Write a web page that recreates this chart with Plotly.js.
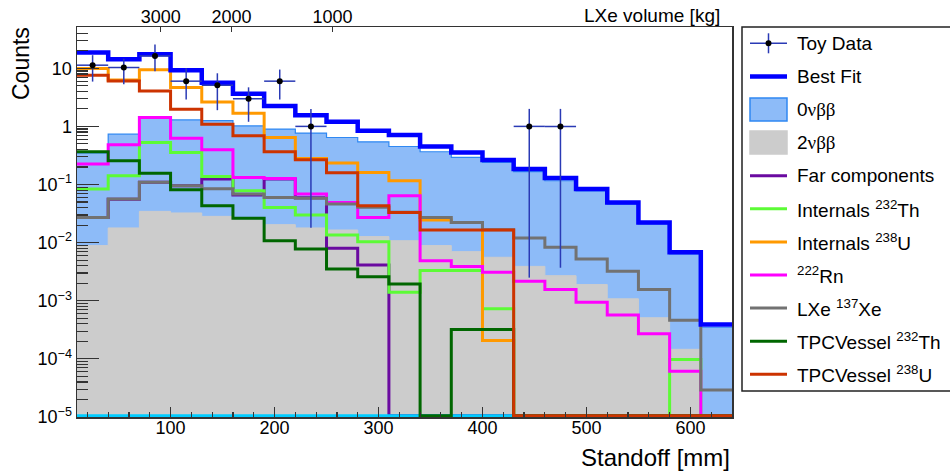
<!DOCTYPE html>
<html><head><meta charset="utf-8">
<script src="https://cdn.plot.ly/plotly-3.0.1.min.js"></script>
<style>body{margin:0;background:#fff}#chart{width:950px;height:476px}</style>
</head><body><div id="chart"></div>
<script>
// ---------- DATA ----------
const binEdges = [10,40,70,100,130,160,190,220,250,280,310,340,370,400,430,460,490,520,550,580,610,640];

const bestFit   = [18.6,14.3,17.4,9.2,5.66,3.66,2.25,1.56,1.20,0.84,0.71,0.45,0.356,0.263,0.185,0.129,0.0836,0.0492,0.0223,0.00683,0.00039];
const zeroNuBB  = [0.35,0.736,1.38,1.29,1.26,1.02,0.90,0.766,0.644,0.543,0.451,0.366,0.292,0.239,0.166,0.116,0.078,0.046,0.021,0.0064,0.00035];
const twoNuBB   = [0.0089,0.0179,0.0345,0.0324,0.0283,0.0245,0.0204,0.0179,0.0165,0.0127,0.0108,0.0089,0.0070,0.0056,0.0039,0.0027,0.0019,0.00108,0.00051,0.000146,0];
const farComp   = [0.027,0.056,0.109,0.095,0.124,0.066,0.124,0.059,0.0080,0.00414,0,0,0,0,0,0,0,0,0,0,0];
const int232Th  = [0.0836,0.142,0.528,0.356,0.138,0.078,0.0404,0.0299,0.0135,0.0104,0.0014,0.0033,0.0033,0.00073,0,0,0,0,0,0.000098,0];
const int238U   = [9.87,6.3,9.4,4.65,2.64,1.69,0.645,0.281,0.234,0.161,0.116,0.0245,0.0223,0.000207,0,0,0,0,0,0,0];
const rn222     = [0.225,0.482,1.42,0.628,0.395,0.132,0.127,0.0687,0.0492,0.0272,0.0641,0.0049,0.00387,0.0031,0.00217,0.00156,0.00094,0.00057,0.00027,0.000061,0];
const xe137     = [0.0272,0.0563,0.109,0.0953,0.0846,0.0687,0.060,0.058,0.0462,0.0407,0.0334,0.0272,0.0223,0.0167,0.012,0.0083,0.00525,0.00321,0.00156,0.00046,0.000029];
const otherZero = [0,0,0,0,0,0,0,0,0,0,0,0,0,0,0,0,0,0,0,0,0];
const tpc232Th  = [0.366,0.256,0.157,0.0813,0.0432,0.0262,0.0108,0.0078,0.00353,0.0026,0.00195,0,0.00032,0.00032,0,0,0,0,0,0,0];
const tpc238U   = [7.6,6.05,4.08,1.98,1.09,0.69,0.366,0.267,0.159,0.0432,0.0331,0.0165,0.0165,0.0165,0,0,0,0,0,0,0];

const toyX      = [25,55,85,115,145,175,205,235,445,475];
const toyY      = [11.3,10.3,16.3,6.0,5.1,3.0,6.0,1.0,1.0,1.0];
const toyErrUp  = [5.5,4.3,9.4,4.0,3.1,1.7,3.5,1.0,1.0,1.0];
const toyErrLo  = [5.4,5.0,7.4,3.1,3.2,1.8,3.1,0.982,0.9975,0.9963];
const toyErrX   = 15;

const xTickVals   = [100,200,300,400,500,600];
const volTickPos  = [90.5,158.7,255.8];
const volTickText = ['3000','2000','1000'];
const yTickVals   = [1e-5,1e-4,1e-3,1e-2,1e-1,1,10];
const yTickText   = ['10<sup>−5</sup>','10<sup>−4</sup>','10<sup>−3</sup>','10<sup>−2</sup>','10<sup>−1</sup>','1','10'];

const legendLabels = ['Toy Data','Best Fit','0<span style="font-family:Liberation Serif">νββ</span>','2<span style="font-family:Liberation Serif">νββ</span>',
  'Far components','Internals <sup>232</sup>Th','Internals <sup>238</sup>U','<sup>222</sup>Rn','LXe <sup>137</sup>Xe',
  'TPCVessel <sup>232</sup>Th','TPCVessel <sup>238</sup>U'];

// ---------- helpers ----------
const FLOOR = 1.05e-5;
function stepY(vals){ const v = vals.map(x => x > 0 ? x : FLOOR); v.push(v[v.length-1]); return v; }
function stepTrace(vals, color, width, extra){
  return Object.assign({type:'scatter', mode:'lines', x:binEdges, y:stepY(vals),
    line:{shape:'hv', color:color, width:width}, hoverinfo:'skip', showlegend:false}, extra||{});
}

const C = {
  best:'#0000ff', zfill:'#8dbbf8', zline:'#2f88f2', two:'#cccccc', far:'#6a0aa0', lg:'#5cfb36',
  orange:'#ff9900', mag:'#ff00ff', gray:'#727272', cyan:'#00ccff', dg:'#006600', red:'#cc3300', err:'#2a3ab5'
};

const traces = [
  stepTrace(zeroNuBB, C.zline, 1.2, {fill:'tozeroy', fillcolor:C.zfill}),
  stepTrace(twoNuBB, C.two, 1, {fill:'tozeroy', fillcolor:C.two}),
  stepTrace(farComp, C.far, 3),
  stepTrace(int232Th, C.lg, 3),
  stepTrace(int238U, C.orange, 3),
  stepTrace(rn222, C.mag, 3),
  stepTrace(xe137, C.gray, 3),
  stepTrace(otherZero, C.cyan, 3),
  stepTrace(tpc232Th, C.dg, 3),
  stepTrace(tpc238U, C.red, 3),
  stepTrace(bestFit, C.best, 4.5),
  {type:'scatter', mode:'markers', x:toyX, y:toyY, hoverinfo:'skip', showlegend:false,
   marker:{color:'#000', size:6},
   error_y:{type:'data', symmetric:false, array:toyErrUp, arrayminus:toyErrLo, width:0, thickness:1.5, color:C.err},
   error_x:{type:'constant', value:toyErrX, width:0, thickness:1.5, color:C.err}},
  {type:'scatter', mode:'markers', x:[volTickPos[0]], y:[1e-7], xaxis:'x2', marker:{opacity:0}, hoverinfo:'skip', showlegend:false}
];

// ---------- geometry ----------
const L=77, R=732, T=27, B=417;
const px = p => (p-L)/(R-L);
const py = p => (B-p)/(B-T);
const FONT = 'Liberation Sans, Arial, sans-serif';

const yMinor = [];
for (let d=-5; d<=1; d++) for (let k=2; k<=9; k++){ const v=k*Math.pow(10,d); if (v<51) yMinor.push(v); }

const shapes = [];
const annotations = [];
// legend box
shapes.push({type:'rect', xref:'paper', yref:'paper', x0:px(742), x1:px(953), y0:py(27), y1:py(391),
  line:{color:'#222', width:1.5}, fillcolor:'rgba(0,0,0,0)'});
const rowY = i => 43.3 + i*33.1;
const sx0 = 750, sx1 = 787;
legendLabels.forEach((lab, i) => {
  annotations.push({xref:'paper', yref:'paper', x:px(795), y:py(rowY(i)), xanchor:'left', yanchor:'middle',
    text:lab, showarrow:false, font:{family:FONT, size:19, color:'#000'}});
});
// symbols
(function(){
  const y0 = rowY(0);
  shapes.push({type:'line', xref:'paper', yref:'paper', x0:px(sx0), x1:px(sx1), y0:py(y0), y1:py(y0), line:{color:C.err, width:1.5}});
  shapes.push({type:'line', xref:'paper', yref:'paper', x0:px(768.5), x1:px(768.5), y0:py(y0-10), y1:py(y0+10), line:{color:C.err, width:1.5}});
  shapes.push({type:'circle', xref:'paper', yref:'paper', x0:px(765.5), x1:px(771.5), y0:py(y0-3), y1:py(y0+3), fillcolor:'#000', line:{color:'#000', width:0}});
  const y1 = rowY(1);
  shapes.push({type:'line', xref:'paper', yref:'paper', x0:px(sx0), x1:px(sx1), y0:py(y1), y1:py(y1), line:{color:C.best, width:4.5}});
  const y2 = rowY(2);
  shapes.push({type:'rect', xref:'paper', yref:'paper', x0:px(sx0), x1:px(sx1), y0:py(y2-11.5), y1:py(y2+11.5), fillcolor:C.zfill, line:{color:C.zline, width:1.5}});
  const y3 = rowY(3);
  shapes.push({type:'rect', xref:'paper', yref:'paper', x0:px(sx0), x1:px(sx1), y0:py(y3-11.5), y1:py(y3+11.5), fillcolor:C.two, line:{color:C.two, width:1.5}});
  const lineCols = [C.far, C.lg, C.orange, C.mag, C.gray, C.dg, C.red];
  lineCols.forEach((c, k) => {
    const yy = rowY(4+k);
    shapes.push({type:'line', xref:'paper', yref:'paper', x0:px(sx0), x1:px(sx1), y0:py(yy), y1:py(yy), line:{color:c, width:3}});
  });
})();

// axis titles
annotations.push({xref:'paper', yref:'paper', x:px(732), y:py(457), xanchor:'right', yanchor:'middle',
  text:'Standoff [mm]', showarrow:false, font:{family:FONT, size:24, color:'#000'}});
annotations.push({xref:'paper', yref:'paper', x:px(21), y:py(64), xanchor:'center', yanchor:'middle', textangle:-90,
  text:'Counts', showarrow:false, font:{family:FONT, size:23, color:'#000'}});
annotations.push({xref:'paper', yref:'paper', x:px(722), y:py(15), xanchor:'right', yanchor:'middle',
  text:'LXe volume [kg]', showarrow:false, font:{family:FONT, size:19, color:'#000'}});

const axLine = '#333';
const layout = {
  width:950, height:476, margin:{l:L, r:950-R, t:T, b:476-B, pad:0},
  paper_bgcolor:'#fff', plot_bgcolor:'#fff', showlegend:false,
  font:{family:FONT, size:18, color:'#000'},
  xaxis:{range:[10,640], tickmode:'array', tickvals:xTickVals, ticks:'inside', ticklen:10, tickwidth:1.2, tickcolor:axLine,
    minor:{ticks:'inside', ticklen:5, tickwidth:1.2, tickcolor:axLine, dtick:20, tick0:0},
    showline:true, linecolor:axLine, linewidth:1.5, mirror:false, showgrid:false, zeroline:false,
    ticklabelstandoff:-6, tickfont:{family:FONT, size:18}},
  xaxis2:{overlaying:'x', side:'top', anchor:'y', range:[10,640], tickmode:'array', tickvals:volTickPos, ticktext:volTickText,
    ticks:'inside', ticklen:5, tickwidth:1.2, tickcolor:axLine, showline:true, linecolor:axLine, linewidth:1.5,
    ticklabelstandoff:-5, showgrid:false, zeroline:false, tickfont:{family:FONT, size:18}},
  yaxis:{type:'log', range:[-5, 1.71], tickmode:'array', tickvals:yTickVals, ticktext:yTickText,
    ticks:'inside', ticklen:22, tickwidth:1.2, tickcolor:axLine,
    minor:{ticks:'inside', ticklen:11, tickwidth:1.2, tickcolor:axLine, tickmode:'array', tickvals:yMinor},
    showline:true, linecolor:axLine, linewidth:1.5, mirror:true, showgrid:false, zeroline:false,
    tickfont:{family:FONT, size:18}},
  shapes:shapes, annotations:annotations
};

Plotly.newPlot('chart', traces, layout, {staticPlot:true, displayModeBar:false});
</script></body></html>
